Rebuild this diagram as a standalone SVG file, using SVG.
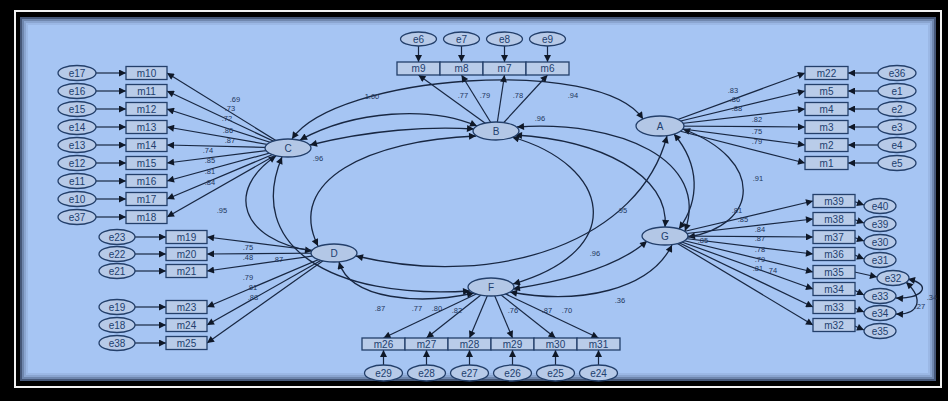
<svg xmlns="http://www.w3.org/2000/svg" width="948" height="401" viewBox="0 0 948 401">
<defs>
<marker id="ah" viewBox="0 0 10 10" refX="10" refY="5" markerUnits="userSpaceOnUse" markerWidth="10" markerHeight="7" orient="auto-start-reverse"><path d="M0,0 L10,5 L0,10 z" fill="#0f1828"/></marker>
<style>
.bx{fill:#b9cce9;stroke:#233f6a;stroke-width:1.3}
.el{fill:#b7cae8;stroke:#233f6a;stroke-width:1.3}
.fe{fill:#b3c7e6;stroke:#233f6a;stroke-width:1.3}
.t{font-family:"Liberation Sans",Arial,sans-serif;font-size:10px;fill:#22406e;text-anchor:middle;dominant-baseline:central}
.lb{font-family:"Liberation Sans",Arial,sans-serif;font-size:7.5px;fill:#22365c;text-anchor:middle}
.ln{fill:none;stroke:#182742;stroke-width:1.2;marker-end:url(#ah)}
.cv{fill:none;stroke:#182742;stroke-width:1.3;marker-start:url(#ah);marker-end:url(#ah)}
</style>
</defs>
<rect width="948" height="401" fill="#000"/>
<rect x="15" y="11" width="926" height="376" fill="none" stroke="#f2f2f2" stroke-width="2"/>
<rect x="20" y="17" width="916" height="364" fill="#a6c5f3"/>
<rect x="21" y="18" width="914" height="362" fill="none" stroke="#1e2a45" stroke-width="2" stroke-opacity="0.7"/>
<rect x="23" y="20" width="910" height="358" fill="none" stroke="#1e2a45" stroke-width="2" stroke-opacity="0.4"/>
<rect x="25" y="22" width="906" height="354" fill="none" stroke="#1e2a45" stroke-width="2" stroke-opacity="0.2"/>
<rect x="27" y="24" width="902" height="350" fill="none" stroke="#1e2a45" stroke-width="2" stroke-opacity="0.08"/>

<g id="connectors">
<path class="cv" d="M292,139 C335,75 600,55 643,119"/>
<path class="cv" d="M300,140 C355,110 430,106 477,126"/>
<path class="cv" d="M310,145 C370,130 430,126 474,129"/>
<path class="cv" d="M476,136 C370,140 285,180 318,246"/>
<path class="cv" d="M276,156 C225,190 240,240 312,251"/>
<path class="cv" d="M282,157 C245,245 330,300 470,291"/>
<path class="cv" d="M339,262 C350,300 420,305 474,293"/>
<path class="cv" d="M356,256 C500,290 640,240 667,136"/>
<path class="cv" d="M517,127 C620,120 710,160 685,231"/>
<path class="cv" d="M515,135 C600,140 670,175 665,227"/>
<path class="cv" d="M512,137 C610,165 630,250 513,284"/>
<path class="cv" d="M683,129 C765,160 760,225 688,237"/>
<path class="cv" d="M674,134 C700,165 700,200 679,229"/>
<path class="cv" d="M513,289 C570,280 620,265 647,241"/>
<path class="cv" d="M510,292 C580,305 650,290 672,245"/>
<path class="cv" d="M908,279 C935,285 920,300 896,298"/>
<path class="cv" d="M906,282 C925,300 918,315 896,314"/>
<line class="ln" x1="288" y1="148" x2="167" y2="73"/>
<line class="ln" x1="288" y1="148" x2="167" y2="91"/>
<line class="ln" x1="288" y1="148" x2="167" y2="109"/>
<line class="ln" x1="288" y1="148" x2="167" y2="127"/>
<line class="ln" x1="288" y1="148" x2="167" y2="145"/>
<line class="ln" x1="288" y1="148" x2="167" y2="163"/>
<line class="ln" x1="288" y1="148" x2="167" y2="181"/>
<line class="ln" x1="288" y1="148" x2="167" y2="199"/>
<line class="ln" x1="288" y1="148" x2="167" y2="217"/>
<line class="ln" x1="334" y1="253" x2="207" y2="237"/>
<line class="ln" x1="334" y1="253" x2="207" y2="254"/>
<line class="ln" x1="334" y1="253" x2="207" y2="271"/>
<line class="ln" x1="334" y1="253" x2="207" y2="307"/>
<line class="ln" x1="334" y1="253" x2="207" y2="325"/>
<line class="ln" x1="334" y1="253" x2="207" y2="343"/>
<line class="ln" x1="496" y1="131" x2="418.5" y2="75"/>
<line class="ln" x1="496" y1="131" x2="461.5" y2="75"/>
<line class="ln" x1="496" y1="131" x2="504.5" y2="75"/>
<line class="ln" x1="496" y1="131" x2="547.5" y2="75"/>
<line class="ln" x1="660" y1="126" x2="805" y2="73"/>
<line class="ln" x1="660" y1="126" x2="805" y2="91"/>
<line class="ln" x1="660" y1="126" x2="805" y2="109"/>
<line class="ln" x1="660" y1="126" x2="805" y2="127"/>
<line class="ln" x1="660" y1="126" x2="805" y2="145"/>
<line class="ln" x1="660" y1="126" x2="805" y2="163"/>
<line class="ln" x1="665" y1="236" x2="813" y2="201"/>
<line class="ln" x1="665" y1="236" x2="813" y2="219"/>
<line class="ln" x1="665" y1="236" x2="813" y2="237"/>
<line class="ln" x1="665" y1="236" x2="813" y2="254"/>
<line class="ln" x1="665" y1="236" x2="813" y2="272"/>
<line class="ln" x1="665" y1="236" x2="813" y2="289"/>
<line class="ln" x1="665" y1="236" x2="813" y2="307"/>
<line class="ln" x1="665" y1="236" x2="813" y2="325"/>
<line class="ln" x1="491" y1="287" x2="383.5" y2="338"/>
<line class="ln" x1="491" y1="287" x2="426.5" y2="338"/>
<line class="ln" x1="491" y1="287" x2="469.5" y2="338"/>
<line class="ln" x1="491" y1="287" x2="512.5" y2="338"/>
<line class="ln" x1="491" y1="287" x2="555.5" y2="338"/>
<line class="ln" x1="491" y1="287" x2="598.5" y2="338"/>
<line class="ln" x1="96" y1="73" x2="126" y2="73"/>
<line class="ln" x1="96" y1="91" x2="126" y2="91"/>
<line class="ln" x1="96" y1="109" x2="126" y2="109"/>
<line class="ln" x1="96" y1="127" x2="126" y2="127"/>
<line class="ln" x1="96" y1="145" x2="126" y2="145"/>
<line class="ln" x1="96" y1="163" x2="126" y2="163"/>
<line class="ln" x1="96" y1="181" x2="126" y2="181"/>
<line class="ln" x1="96" y1="199" x2="126" y2="199"/>
<line class="ln" x1="96" y1="217" x2="126" y2="217"/>
<line class="ln" x1="135" y1="237" x2="166" y2="237"/>
<line class="ln" x1="135" y1="254" x2="166" y2="254"/>
<line class="ln" x1="135" y1="271" x2="166" y2="271"/>
<line class="ln" x1="135" y1="307" x2="166" y2="307"/>
<line class="ln" x1="135" y1="325" x2="166" y2="325"/>
<line class="ln" x1="135" y1="343" x2="166" y2="343"/>
<line class="ln" x1="418.5" y1="46" x2="418.5" y2="62"/>
<line class="ln" x1="461.5" y1="46" x2="461.5" y2="62"/>
<line class="ln" x1="504.5" y1="46" x2="504.5" y2="62"/>
<line class="ln" x1="547.5" y1="46" x2="547.5" y2="62"/>
<line class="ln" x1="383.5" y1="365" x2="383.5" y2="350"/>
<line class="ln" x1="426.5" y1="365" x2="426.5" y2="350"/>
<line class="ln" x1="469.5" y1="365" x2="469.5" y2="350"/>
<line class="ln" x1="512.5" y1="365" x2="512.5" y2="350"/>
<line class="ln" x1="555.5" y1="365" x2="555.5" y2="350"/>
<line class="ln" x1="598.5" y1="365" x2="598.5" y2="350"/>
<line class="ln" x1="878" y1="73" x2="848" y2="73"/>
<line class="ln" x1="878" y1="91" x2="848" y2="91"/>
<line class="ln" x1="878" y1="109" x2="848" y2="109"/>
<line class="ln" x1="878" y1="127" x2="848" y2="127"/>
<line class="ln" x1="878" y1="145" x2="848" y2="145"/>
<line class="ln" x1="878" y1="163" x2="848" y2="163"/>
<line class="ln" x1="850" y1="200" x2="864" y2="205"/>
<line class="ln" x1="850" y1="218" x2="864" y2="223"/>
<line class="ln" x1="850" y1="236" x2="864" y2="241"/>
<line class="ln" x1="850" y1="253" x2="864" y2="259"/>
<line class="ln" x1="850" y1="271" x2="877" y2="277"/>
<line class="ln" x1="850" y1="288" x2="864" y2="295"/>
<line class="ln" x1="850" y1="306" x2="864" y2="312"/>
<line class="ln" x1="850" y1="324" x2="864" y2="330"/>
</g>

<g id="labels">
<text class="lb" x="235" y="102">.69</text>
<text class="lb" x="230" y="111">.73</text>
<text class="lb" x="227" y="121">.72</text>
<text class="lb" x="228" y="133">.86</text>
<text class="lb" x="230" y="143">.87</text>
<text class="lb" x="208" y="153">.74</text>
<text class="lb" x="210" y="163">.85</text>
<text class="lb" x="210" y="174">.81</text>
<text class="lb" x="210" y="185">.84</text>
<text class="lb" x="248" y="250">.75</text>
<text class="lb" x="248" y="260">.48</text>
<text class="lb" x="278" y="262">.87</text>
<text class="lb" x="248" y="280">.79</text>
<text class="lb" x="252" y="290">.81</text>
<text class="lb" x="253" y="300">.88</text>
<text class="lb" x="733" y="93">.83</text>
<text class="lb" x="735" y="102">.86</text>
<text class="lb" x="737" y="111">.88</text>
<text class="lb" x="757" y="122">.82</text>
<text class="lb" x="757" y="134">.75</text>
<text class="lb" x="757" y="144">.79</text>
<text class="lb" x="737" y="213">.81</text>
<text class="lb" x="743" y="222">.85</text>
<text class="lb" x="760" y="232">.84</text>
<text class="lb" x="760" y="241">.87</text>
<text class="lb" x="760" y="252">.78</text>
<text class="lb" x="760" y="262">.79</text>
<text class="lb" x="758" y="271">.81</text>
<text class="lb" x="772" y="273">.74</text>
<text class="lb" x="703" y="243">.85</text>
<text class="lb" x="463" y="98">.77</text>
<text class="lb" x="485" y="98">.79</text>
<text class="lb" x="518" y="98">.78</text>
<text class="lb" x="372" y="99">1.00</text>
<text class="lb" x="573" y="98">.94</text>
<text class="lb" x="540" y="121">.96</text>
<text class="lb" x="318" y="161">.96</text>
<text class="lb" x="222" y="213">.95</text>
<text class="lb" x="622" y="213">.95</text>
<text class="lb" x="595" y="256">.96</text>
<text class="lb" x="758" y="181">.91</text>
<text class="lb" x="620" y="303">.36</text>
<text class="lb" x="380" y="311">.87</text>
<text class="lb" x="417" y="311">.77</text>
<text class="lb" x="437" y="311">.80</text>
<text class="lb" x="457" y="313">.82</text>
<text class="lb" x="513" y="313">.76</text>
<text class="lb" x="547" y="313">.87</text>
<text class="lb" x="567" y="313">.70</text>
<text class="lb" x="932" y="300">.34</text>
<text class="lb" x="920" y="309">.27</text>
</g>

<g id="A"><ellipse class="fe" cx="660" cy="126" rx="24" ry="10"/><text class="t" x="660" y="126">A</text></g>
<g id="B"><ellipse class="fe" cx="496" cy="131" rx="23" ry="9"/><text class="t" x="496" y="131">B</text></g>
<g id="C"><ellipse class="fe" cx="288" cy="148" rx="23" ry="9"/><text class="t" x="288" y="148">C</text></g>
<g id="D"><ellipse class="fe" cx="334" cy="253" rx="23" ry="9"/><text class="t" x="334" y="253">D</text></g>
<g id="F"><ellipse class="fe" cx="491" cy="287" rx="23" ry="9"/><text class="t" x="491" y="287">F</text></g>
<g id="G"><ellipse class="fe" cx="665" cy="236" rx="23" ry="9"/><text class="t" x="665" y="236">G</text></g>

<g id="m10"><rect class="bx" x="126" y="66.5" width="41" height="13"/><text class="t" x="146.5" y="73">m10</text></g>
<g id="m11"><rect class="bx" x="126" y="84.5" width="41" height="13"/><text class="t" x="146.5" y="91">m11</text></g>
<g id="m12"><rect class="bx" x="126" y="102.5" width="41" height="13"/><text class="t" x="146.5" y="109">m12</text></g>
<g id="m13"><rect class="bx" x="126" y="120.5" width="41" height="13"/><text class="t" x="146.5" y="127">m13</text></g>
<g id="m14"><rect class="bx" x="126" y="138.5" width="41" height="13"/><text class="t" x="146.5" y="145">m14</text></g>
<g id="m15"><rect class="bx" x="126" y="156.5" width="41" height="13"/><text class="t" x="146.5" y="163">m15</text></g>
<g id="m16"><rect class="bx" x="126" y="174.5" width="41" height="13"/><text class="t" x="146.5" y="181">m16</text></g>
<g id="m17"><rect class="bx" x="126" y="192.5" width="41" height="13"/><text class="t" x="146.5" y="199">m17</text></g>
<g id="m18"><rect class="bx" x="126" y="210.5" width="41" height="13"/><text class="t" x="146.5" y="217">m18</text></g>
<g id="e17"><ellipse class="el" cx="77" cy="73" rx="19" ry="7.5"/><text class="t" x="77" y="73">e17</text></g>
<g id="e16"><ellipse class="el" cx="77" cy="91" rx="19" ry="7.5"/><text class="t" x="77" y="91">e16</text></g>
<g id="e15"><ellipse class="el" cx="77" cy="109" rx="19" ry="7.5"/><text class="t" x="77" y="109">e15</text></g>
<g id="e14"><ellipse class="el" cx="77" cy="127" rx="19" ry="7.5"/><text class="t" x="77" y="127">e14</text></g>
<g id="e13"><ellipse class="el" cx="77" cy="145" rx="19" ry="7.5"/><text class="t" x="77" y="145">e13</text></g>
<g id="e12"><ellipse class="el" cx="77" cy="163" rx="19" ry="7.5"/><text class="t" x="77" y="163">e12</text></g>
<g id="e11"><ellipse class="el" cx="77" cy="181" rx="19" ry="7.5"/><text class="t" x="77" y="181">e11</text></g>
<g id="e10"><ellipse class="el" cx="77" cy="199" rx="19" ry="7.5"/><text class="t" x="77" y="199">e10</text></g>
<g id="e37"><ellipse class="el" cx="77" cy="217" rx="19" ry="7.5"/><text class="t" x="77" y="217">e37</text></g>

<g id="m19"><rect class="bx" x="166" y="230.5" width="41" height="13"/><text class="t" x="186.5" y="237">m19</text></g>
<g id="m20"><rect class="bx" x="166" y="247.5" width="41" height="13"/><text class="t" x="186.5" y="254">m20</text></g>
<g id="m21"><rect class="bx" x="166" y="264.5" width="41" height="13"/><text class="t" x="186.5" y="271">m21</text></g>
<g id="m23"><rect class="bx" x="166" y="300.5" width="41" height="13"/><text class="t" x="186.5" y="307">m23</text></g>
<g id="m24"><rect class="bx" x="166" y="318.5" width="41" height="13"/><text class="t" x="186.5" y="325">m24</text></g>
<g id="m25"><rect class="bx" x="166" y="336.5" width="41" height="13"/><text class="t" x="186.5" y="343">m25</text></g>
<g id="e23"><ellipse class="el" cx="117" cy="237" rx="18" ry="7.5"/><text class="t" x="117" y="237">e23</text></g>
<g id="e22"><ellipse class="el" cx="117" cy="254" rx="18" ry="7.5"/><text class="t" x="117" y="254">e22</text></g>
<g id="e21"><ellipse class="el" cx="117" cy="271" rx="18" ry="7.5"/><text class="t" x="117" y="271">e21</text></g>
<g id="e19"><ellipse class="el" cx="117" cy="307" rx="18" ry="7.5"/><text class="t" x="117" y="307">e19</text></g>
<g id="e18"><ellipse class="el" cx="117" cy="325" rx="18" ry="7.5"/><text class="t" x="117" y="325">e18</text></g>
<g id="e38"><ellipse class="el" cx="117" cy="343" rx="18" ry="7.5"/><text class="t" x="117" y="343">e38</text></g>

<g id="m9"><rect class="bx" x="397" y="62" width="43" height="13"/><text class="t" x="418.5" y="68.5">m9</text></g>
<g id="m8"><rect class="bx" x="440" y="62" width="43" height="13"/><text class="t" x="461.5" y="68.5">m8</text></g>
<g id="m7"><rect class="bx" x="483" y="62" width="43" height="13"/><text class="t" x="504.5" y="68.5">m7</text></g>
<g id="m6"><rect class="bx" x="526" y="62" width="43" height="13"/><text class="t" x="547.5" y="68.5">m6</text></g>
<g id="e6"><ellipse class="el" cx="418.5" cy="39" rx="18" ry="7"/><text class="t" x="418.5" y="39">e6</text></g>
<g id="e7"><ellipse class="el" cx="461.5" cy="39" rx="18" ry="7"/><text class="t" x="461.5" y="39">e7</text></g>
<g id="e8"><ellipse class="el" cx="504.5" cy="39" rx="18" ry="7"/><text class="t" x="504.5" y="39">e8</text></g>
<g id="e9"><ellipse class="el" cx="547.5" cy="39" rx="18" ry="7"/><text class="t" x="547.5" y="39">e9</text></g>

<g id="m26"><rect class="bx" x="362" y="338" width="43" height="12"/><text class="t" x="383.5" y="344">m26</text></g>
<g id="m27"><rect class="bx" x="405" y="338" width="43" height="12"/><text class="t" x="426.5" y="344">m27</text></g>
<g id="m28"><rect class="bx" x="448" y="338" width="43" height="12"/><text class="t" x="469.5" y="344">m28</text></g>
<g id="m29"><rect class="bx" x="491" y="338" width="43" height="12"/><text class="t" x="512.5" y="344">m29</text></g>
<g id="m30"><rect class="bx" x="534" y="338" width="43" height="12"/><text class="t" x="555.5" y="344">m30</text></g>
<g id="m31"><rect class="bx" x="577" y="338" width="43" height="12"/><text class="t" x="598.5" y="344">m31</text></g>
<g id="e29"><ellipse class="el" cx="383.5" cy="373" rx="19" ry="8"/><text class="t" x="383.5" y="373">e29</text></g>
<g id="e28"><ellipse class="el" cx="426.5" cy="373" rx="19" ry="8"/><text class="t" x="426.5" y="373">e28</text></g>
<g id="e27"><ellipse class="el" cx="469.5" cy="373" rx="19" ry="8"/><text class="t" x="469.5" y="373">e27</text></g>
<g id="e26"><ellipse class="el" cx="512.5" cy="373" rx="19" ry="8"/><text class="t" x="512.5" y="373">e26</text></g>
<g id="e25"><ellipse class="el" cx="555.5" cy="373" rx="19" ry="8"/><text class="t" x="555.5" y="373">e25</text></g>
<g id="e24"><ellipse class="el" cx="598.5" cy="373" rx="19" ry="8"/><text class="t" x="598.5" y="373">e24</text></g>

<g id="m22"><rect class="bx" x="805" y="66.5" width="43" height="13"/><text class="t" x="826.5" y="73">m22</text></g>
<g id="m5"><rect class="bx" x="805" y="84.5" width="43" height="13"/><text class="t" x="826.5" y="91">m5</text></g>
<g id="m4"><rect class="bx" x="805" y="102.5" width="43" height="13"/><text class="t" x="826.5" y="109">m4</text></g>
<g id="m3"><rect class="bx" x="805" y="120.5" width="43" height="13"/><text class="t" x="826.5" y="127">m3</text></g>
<g id="m2"><rect class="bx" x="805" y="138.5" width="43" height="13"/><text class="t" x="826.5" y="145">m2</text></g>
<g id="m1"><rect class="bx" x="805" y="156.5" width="43" height="13"/><text class="t" x="826.5" y="163">m1</text></g>
<g id="e36"><ellipse class="el" cx="897" cy="73" rx="19" ry="7.5"/><text class="t" x="897" y="73">e36</text></g>
<g id="e1"><ellipse class="el" cx="897" cy="91" rx="19" ry="7.5"/><text class="t" x="897" y="91">e1</text></g>
<g id="e2"><ellipse class="el" cx="897" cy="109" rx="19" ry="7.5"/><text class="t" x="897" y="109">e2</text></g>
<g id="e3"><ellipse class="el" cx="897" cy="127" rx="19" ry="7.5"/><text class="t" x="897" y="127">e3</text></g>
<g id="e4"><ellipse class="el" cx="897" cy="145" rx="19" ry="7.5"/><text class="t" x="897" y="145">e4</text></g>
<g id="e5"><ellipse class="el" cx="897" cy="163" rx="19" ry="7.5"/><text class="t" x="897" y="163">e5</text></g>

<g id="m39"><rect class="bx" x="813" y="194.5" width="42" height="13"/><text class="t" x="834" y="201">m39</text></g>
<g id="m38"><rect class="bx" x="813" y="212.5" width="42" height="13"/><text class="t" x="834" y="219">m38</text></g>
<g id="m37"><rect class="bx" x="813" y="230.5" width="42" height="13"/><text class="t" x="834" y="237">m37</text></g>
<g id="m36"><rect class="bx" x="813" y="247.5" width="42" height="13"/><text class="t" x="834" y="254">m36</text></g>
<g id="m35"><rect class="bx" x="813" y="265.5" width="42" height="13"/><text class="t" x="834" y="272">m35</text></g>
<g id="m34"><rect class="bx" x="813" y="282.5" width="42" height="13"/><text class="t" x="834" y="289">m34</text></g>
<g id="m33"><rect class="bx" x="813" y="300.5" width="42" height="13"/><text class="t" x="834" y="307">m33</text></g>
<g id="m32"><rect class="bx" x="813" y="318.5" width="42" height="13"/><text class="t" x="834" y="325">m32</text></g>
<g id="e40"><ellipse class="el" cx="880" cy="206" rx="16" ry="7.5"/><text class="t" x="880" y="206">e40</text></g>
<g id="e39"><ellipse class="el" cx="880" cy="224" rx="16" ry="7.5"/><text class="t" x="880" y="224">e39</text></g>
<g id="e30"><ellipse class="el" cx="880" cy="242" rx="16" ry="7.5"/><text class="t" x="880" y="242">e30</text></g>
<g id="e31"><ellipse class="el" cx="880" cy="260" rx="16" ry="7.5"/><text class="t" x="880" y="260">e31</text></g>
<g id="e32"><ellipse class="el" cx="893" cy="278" rx="16" ry="7.5"/><text class="t" x="893" y="278">e32</text></g>
<g id="e33"><ellipse class="el" cx="880" cy="296" rx="16" ry="7.5"/><text class="t" x="880" y="296">e33</text></g>
<g id="e34"><ellipse class="el" cx="880" cy="313" rx="16" ry="7.5"/><text class="t" x="880" y="313">e34</text></g>
<g id="e35"><ellipse class="el" cx="880" cy="331" rx="16" ry="7.5"/><text class="t" x="880" y="331">e35</text></g>
</svg>
